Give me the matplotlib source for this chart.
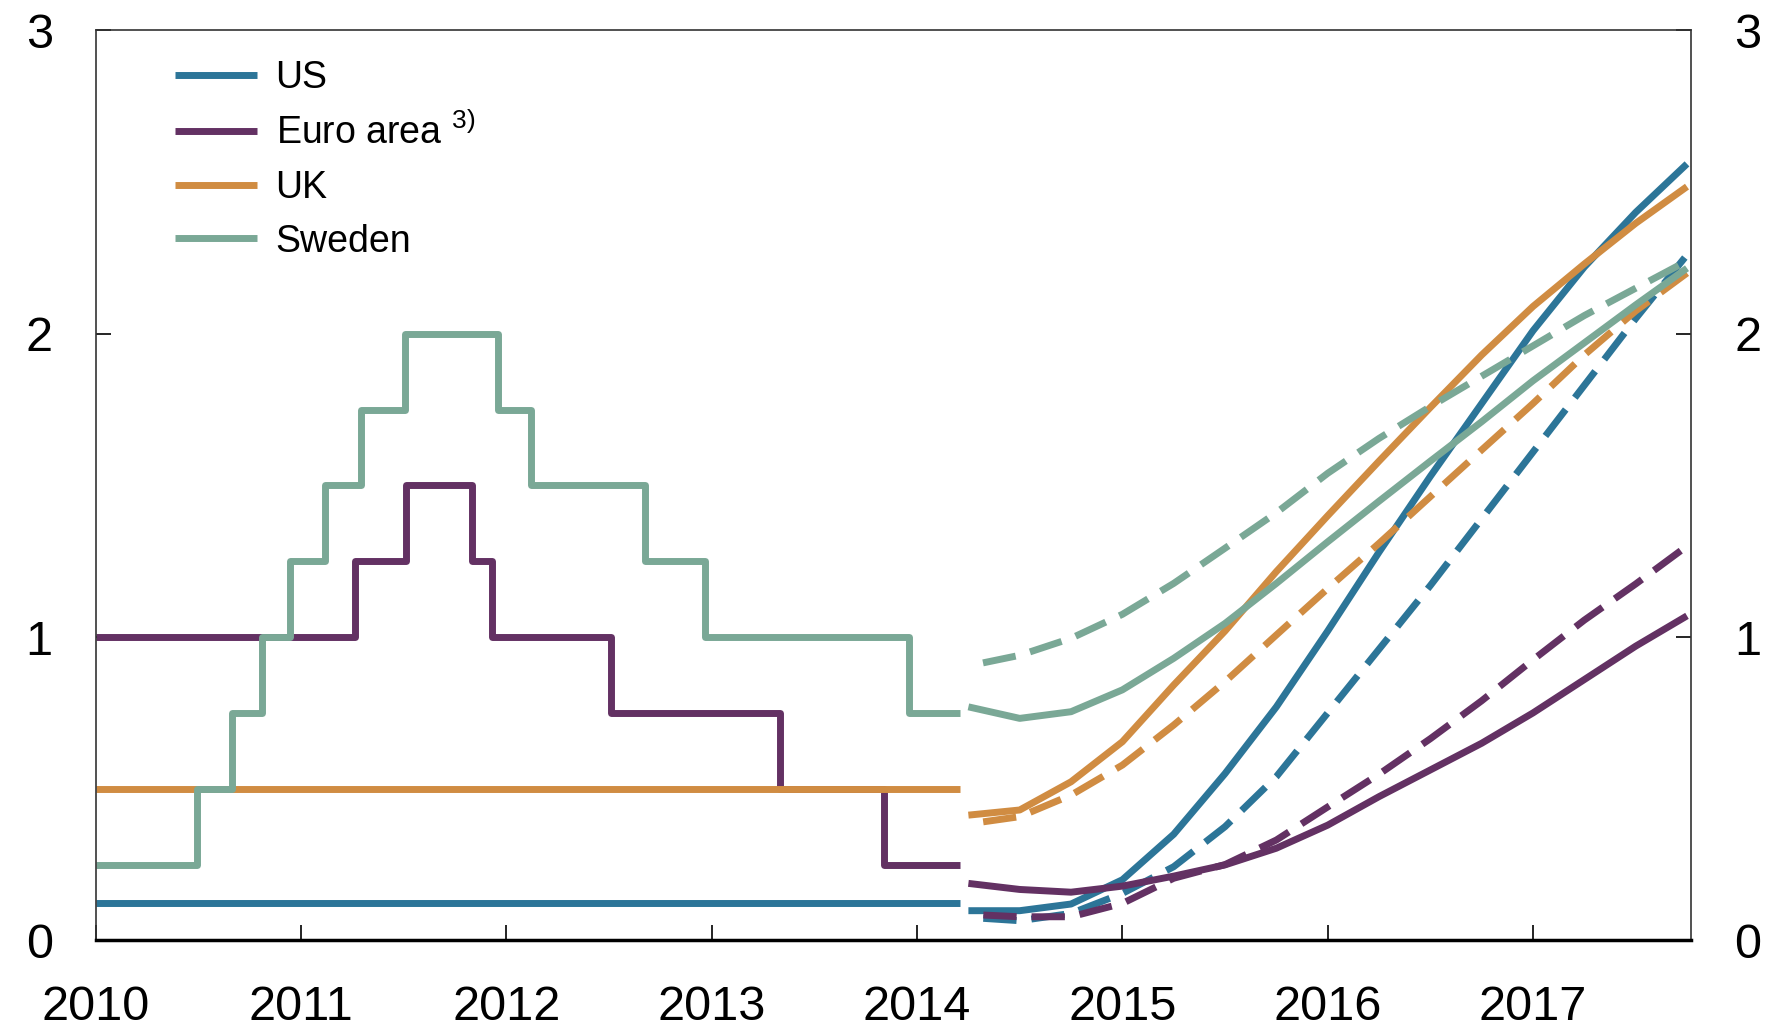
import matplotlib
matplotlib.use("Agg")
import matplotlib.pyplot as plt

plt.rcParams["font.family"] = ["Liberation Sans", "DejaVu Sans"]
plt.rcParams["mathtext.default"] = "regular"

# ── historical policy rates (decimal year of each change, level after change)
END_HIST = 2014.21
us_dates = [2010.0]
us_rates = [0.125]
euro_dates = [2010.0, 2011.26, 2011.51, 2011.83, 2011.93, 2012.51, 2013.33, 2013.84]
euro_rates = [1.0, 1.25, 1.5, 1.25, 1.0, 0.75, 0.5, 0.25]
uk_dates = [2010.0]
uk_rates = [0.5]
sweden_dates = [2010.0, 2010.495, 2010.661, 2010.81, 2010.944, 2011.118, 2011.291,
                2011.504, 2011.96, 2012.12, 2012.676, 2012.967, 2013.962]
sweden_rates = [0.25, 0.5, 0.75, 1.0, 1.25, 1.5, 1.75, 2.0, 1.75, 1.5, 1.25, 1.0, 0.75]

# ── forward rates, quarterly (solid = latest, dashed = earlier)
quarters = [2014.25, 2014.5, 2014.75, 2015.0, 2015.25, 2015.5, 2015.75, 2016.0,
            2016.25, 2016.5, 2016.75, 2017.0, 2017.25, 2017.5, 2017.75]
us_fwd = [0.098, 0.098, 0.12, 0.20, 0.35, 0.55, 0.77, 1.02,
          1.28, 1.53, 1.77, 2.01, 2.22, 2.40, 2.56]
us_fwd_old = [0.076, 0.065, 0.089, 0.155, 0.243, 0.375, 0.54, 0.75,
              0.96, 1.17, 1.39, 1.61, 1.83, 2.05, 2.26]
euro_fwd = [0.188, 0.168, 0.159, 0.179, 0.212, 0.249, 0.304, 0.38,
            0.474, 0.562, 0.65, 0.75, 0.86, 0.97, 1.07]
euro_fwd_old = [0.086, 0.078, 0.078, 0.122, 0.205, 0.25, 0.331, 0.44,
                0.548, 0.665, 0.79, 0.925, 1.056, 1.175, 1.30]
uk_fwd = [0.413, 0.43, 0.523, 0.655, 0.842, 1.02, 1.216, 1.40,
          1.58, 1.757, 1.93, 2.09, 2.23, 2.364, 2.485]
uk_fwd_old = [0.384, 0.408, 0.479, 0.578, 0.71, 0.853, 1.007, 1.16,
              1.309, 1.463, 1.617, 1.77, 1.93, 2.075, 2.20]
sweden_fwd = [0.77, 0.732, 0.754, 0.826, 0.93, 1.045, 1.177, 1.314,
              1.448, 1.58, 1.71, 1.845, 1.97, 2.095, 2.216]
sweden_fwd_old = [0.905, 0.94, 0.996, 1.075, 1.177, 1.293, 1.41, 1.54,
                  1.655, 1.76, 1.86, 1.96, 2.06, 2.15, 2.24]

labels = ["US", "Euro area $^{3)}$", "UK", "Sweden"]
colors = ["#2c7598", "#633163", "#d08c42", "#7aa896"]

years = [2010, 2011, 2012, 2013, 2014, 2015, 2016, 2017]

LW = 5.0
DASH = (4.8, (4.8, 2.15))

fig = plt.figure(figsize=(17.68, 10.27), dpi=100)
ax = fig.add_axes([0.0542, 0.0843, 0.9023, 0.8861])

hist = [(us_dates, us_rates), (euro_dates, euro_rates),
        (uk_dates, uk_rates), (sweden_dates, sweden_rates)]
fwd = [(us_fwd, us_fwd_old), (euro_fwd, euro_fwd_old),
       (uk_fwd, uk_fwd_old), (sweden_fwd, sweden_fwd_old)]

for (d, r), c, lab in zip(hist, colors, labels):
    ax.step(d + [END_HIST], r + [r[-1]], where="post", color=c, lw=LW,
            solid_capstyle="butt", label=lab)
for (new, old), c in zip(fwd, colors):
    ax.plot(quarters, old, color=c, lw=LW, linestyle=DASH)
    ax.plot(quarters, new, color=c, lw=LW, solid_capstyle="butt")

ax.set_xlim(2010, 2017.77)
ax.set_ylim(0, 3)
ax.set_xticks(years)
ax.set_xticklabels([str(y) for y in years])
ax.set_yticks([0, 1, 2, 3])

ax.tick_params(axis="x", direction="in", length=11, width=1.2, labelsize=35, pad=32)
ax.tick_params(axis="y", direction="in", length=11, width=1.2, labelsize=35,
               right=True, labelright=True, pad=31)

for side in ["top", "left", "right"]:
    ax.spines[side].set_linewidth(1.2)
    ax.spines[side].set_color("#333333")
ax.spines["bottom"].set_linewidth(2.5)
ax.spines["bottom"].set_color("black")

ax.legend(loc="upper left", bbox_to_anchor=(0.0497, 0.967), frameon=False,
          fontsize=27, handlelength=2.18, handletextpad=0.5, labelspacing=0.47,
          borderpad=0, borderaxespad=0)

fig.savefig("out.png", dpi=100)
